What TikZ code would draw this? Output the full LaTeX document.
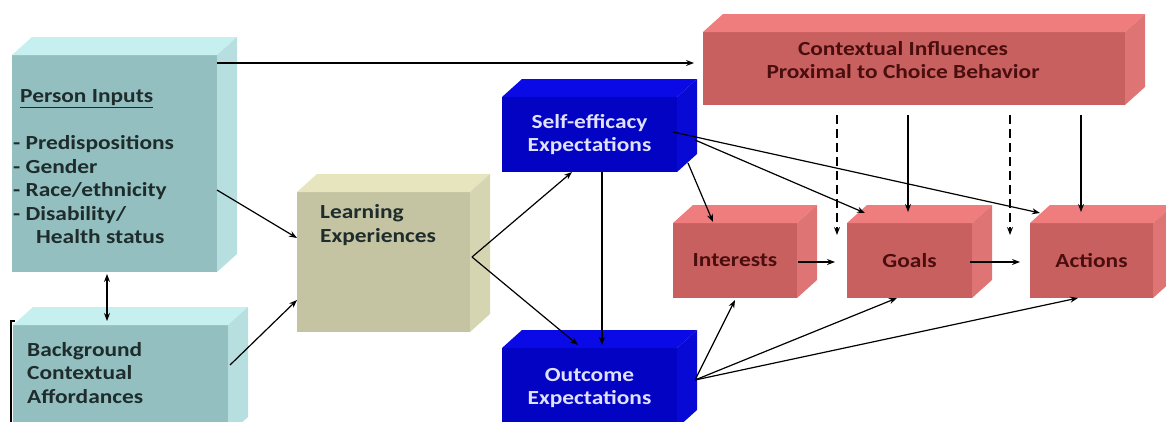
\documentclass[tikz,border=0pt]{standalone}
\usepackage{fontspec}
\setmainfont{Carlito}[FakeStretch=1.17]
\usepackage{tikz}
\usetikzlibrary{arrows.meta,positioning,calc}

\definecolor{tealfront}{HTML}{94BFC0}
\definecolor{tealtop}{HTML}{C6F0F0}
\definecolor{khakifront}{HTML}{C4C3A2}
\definecolor{khakitop}{HTML}{E6E5BE}
\definecolor{bluefront}{HTML}{0303C4}
\definecolor{bluetop}{HTML}{0A0AE6}
\definecolor{redfront}{HTML}{C96060}
\definecolor{redtop}{HTML}{EF7D7D}
\definecolor{darktxt}{HTML}{1E2C2C}
\definecolor{redtxt}{HTML}{4A0E0E}

% top and right faces of a box node
\newcommand{\boxsides}[2]{%
  \fill[#2] (#1.north west) -- ++(20,-18) -- ($(#1.north east)+(20,-18)$) -- (#1.north east) -- cycle;
  \fill[#2!93!black] (#1.north east) -- ++(20,-18) -- ($(#1.south east)+(20,-18)$) -- (#1.south east) -- cycle;}

\begin{document}
\begin{tikzpicture}[x=1pt,y=-1pt,
    every node/.style={font=\fontsize{20}{23.5}\selectfont\bfseries},
    box/.style={rectangle, inner sep=0pt, outer sep=0pt, align=center},
    txt/.style={inner sep=0pt, align=left, text=darktxt},
    arr/.style={-{Stealth[length=8pt,width=6pt]}, line width=1.2pt},
    dbl/.style={{Stealth[length=8pt,width=6pt]}-{Stealth[length=8pt,width=6pt]}, line width=1.2pt},
    dsh/.style={dash pattern=on 9pt off 5pt}]
        \useasboundingbox (0,0) rectangle (1166,421);
        \clip (0,0) rectangle (1166,421);
        % boxes
        \node[box, fill=tealfront, minimum width=205pt, minimum height=217pt] at (114.5,163.5) (pin) {};
        \node[box, fill=tealfront, minimum width=215pt, minimum height=110pt] at (120.5,380) (bgc) {};
        \node[box, fill=khakifront, minimum width=173pt, minimum height=140pt] at (383.5,262) (learn) {};
        \node[box, fill=bluefront, text=white!88!blue, minimum width=175pt, minimum height=75pt] at (589.5,134.5) (selfe) {Self-efficacy\\Expectations};
        \node[box, fill=bluefront, text=white!88!blue, minimum width=175pt, minimum height=80pt] at (589.5,388) (outc) {Outcome\\Expectations};
        \node[box, fill=redfront, minimum width=422pt, minimum height=73pt] at (914,68.5) (ctx) {};
        \node[box, fill=redfront, text=redtxt, minimum width=124pt, minimum height=75pt] at (735,260.5) (intr) {Interests};
        \node[box, fill=redfront, text=redtxt, minimum width=125pt, minimum height=75pt] at (909.5,260.5) (goal) {Goals};
        \node[box, fill=redfront, text=redtxt, minimum width=123pt, minimum height=75pt] at (1091.5,260.5) (act) {Actions};
        \foreach \n/\c in {pin/tealtop, bgc/tealtop, learn/khakitop, selfe/bluetop, outc/bluetop, ctx/redtop, intr/redtop, goal/redtop, act/redtop}
          {\boxsides{\n}{\c}}
        % labels
        \node[txt, anchor=west] at (13,167) (pinlbl) {\hspace*{7pt}\underline{Person Inputs}\\[23.5pt]- Predispositions\\- Gender\\- Race/ethnicity\\- Disability/\\\hspace*{23pt}Health status};
        \node[txt, anchor=west] at (27,373) (bgclbl) {Background\\Contextual\\Affordances};
        \node[txt, anchor=west] at (320,225) (learnlbl) {Learning\\Experiences};
        \node[txt, align=center, text=redtxt] at (903,60) (ctxlbl) {Contextual Influences\\Proximal to Choice Behavior};
        % connectors
        \draw[arr] ($(pin.north east)+(0,8)$) -- ($(ctx.west)+(-9,-5.5)$);
        \draw[arr] ($(pin.east)+(0,26.5)$) -- ($(learn.west)+(0,-24)$);
        \draw[arr] ($(bgc.east)+(2,-15)$) -- ($(learn.west)+(0,38)$);
        \draw[dbl] ($(pin.south)+(-7.5,2)$) -- ($(bgc.north)+(-13.5,-4)$);
        \draw[line width=1.2pt] ($(bgc.north west)+(2,-4)$) -- ++(-4,0) -- ++(0,110);
        \draw[arr] ($(learn.east)+(2,-5)$) -- ($(selfe.south)+(-17.5,0)$);
        \draw[arr] ($(learn.east)+(2,-5)$) -- ($(outc.north)+(-11.5,-3)$);
        \draw[arr] ($(selfe.south)+(12.5,0)$) -- ($(outc.north)+(12.5,-3)$);
        \draw[arr] ($(selfe.east)+(11,28.5)$) -- ($(intr.north)+(-22,-1)$);
        \draw[arr] ($(selfe.east)+(18,5.5)$) -- ($(goal.north west)+(18,-10)$);
        \draw[arr] ($(selfe.east)+(-4,-2.5)$) -- ($(act.north west)+(10,-10)$);
        \coordinate (dash1) at (837,235);
        \coordinate (dash2) at (1010,235);
        \draw[arr,dsh] ($(ctx.south west)+(134,10)$) -- (dash1);
        \draw[arr] ($(ctx.south west)+(205,10)$) -- ($(goal.north)+(-1.5,-11)$);
        \draw[arr,dsh] ($(ctx.south west)+(307,10)$) -- (dash2);
        \draw[arr] ($(ctx.south west)+(378,10)$) -- ($(act.north)+(-10.5,-11)$);
        \draw[arr, shorten >=12pt] ($(intr.east)+(1,1.5)$) -- ($(goal.west)+(0,1.5)$);
        \draw[arr, shorten >=10pt] ($(goal.east)+(-2,1.5)$) -- ($(act.west)+(0,1.5)$);
        \draw[arr] ($(outc.east)+(18,-8)$) -- ($(intr.south)+(0,2)$);
        \draw[arr] ($(outc.east)+(18,-8)$) -- ($(goal.south)+(-12.5,0)$);
        \draw[arr] ($(outc.east)+(18,-8)$) -- ($(act.south)+(-13.5,0)$);
\end{tikzpicture}
\end{document}
